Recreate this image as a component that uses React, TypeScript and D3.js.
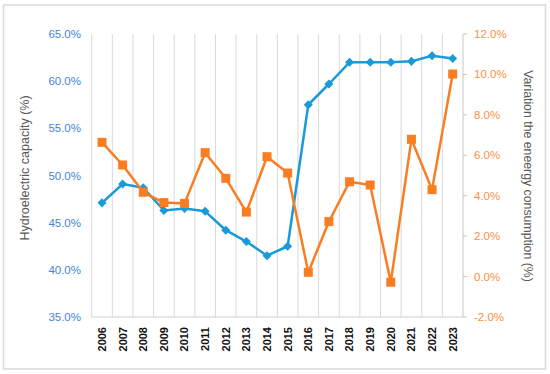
import React from 'react';
import * as d3 from 'd3';

const years = ['2006', '2007', '2008', '2009', '2010', '2011', '2012', '2013', '2014', '2015', '2016', '2017', '2018', '2019', '2020', '2021', '2022', '2023'];
// hydroelectric capacity (%), left axis
const hydro = [47.1, 49.1, 48.7, 46.3, 46.5, 46.2, 44.2, 43.0, 41.5, 42.5, 57.5, 59.7, 62.0, 62.0, 62.0, 62.1, 62.7, 62.4];
// variation of energy consumption (%), right axis
const energy = [6.64, 5.52, 4.17, 3.66, 3.62, 6.13, 4.86, 3.19, 5.93, 5.12, 0.21, 2.72, 4.69, 4.53, -0.28, 6.79, 4.3, 10.02];
const leftTicks = [35, 40, 45, 50, 55, 60, 65];
const rightTicks = [-2, 0, 2, 4, 6, 8, 10, 12];

const W = 550;
const H = 374;
const m = { top: 34, right: 87, bottom: 57, left: 91.7 };

const BLUE = '#1b9ad8';
const ORANGE = '#fb7d22';

export default function App() {
  const x = d3.scaleBand<string>().domain(years).range([m.left, W - m.right]);
  const yL = d3.scaleLinear().domain([35, 65]).range([H - m.bottom, m.top]);
  const yR = d3.scaleLinear().domain([-2, 12]).range([H - m.bottom, m.top]);
  const cx = (d: string) => (x(d) || 0) + x.bandwidth() / 2;

  const lineL = d3.line<number>().x((_, i) => cx(years[i])).y(d => yL(d));
  const lineR = d3.line<number>().x((_, i) => cx(years[i])).y(d => yR(d));

  const bottom = H - m.bottom;
  const right = W - m.right;
  const font = '"Liberation Sans", Arial, sans-serif';

  return (
    <svg width={W} height={H} style={{ position: 'absolute', left: 0, top: 0, background: '#fff' }} fontFamily={font}>
      <rect x={3.5} y={5} width={542} height={364} fill="#fff" stroke="#d9d9d9" strokeWidth={1.5} />

      {/* vertical grid at band edges */}
      {years.map(d => (
        <line key={d} x1={x(d)} x2={x(d)} y1={m.top} y2={bottom} stroke="#d9d9d9" strokeWidth={1} />
      ))}
      <line x1={m.left} x2={right} y1={bottom} y2={bottom} stroke="#d0d0d0" />
      <line x1={right} x2={right} y1={m.top} y2={bottom} stroke="#c8c8c8" />
      {rightTicks.map(t => (
        <line key={t} x1={right} x2={right + 4} y1={yR(t)} y2={yR(t)} stroke="#c8c8c8" />
      ))}

      {/* left ticks */}
      {leftTicks.map(t => (
        <text key={t} x={81} y={yL(t)} dy="0.35em" textAnchor="end" fontSize={11.5} fill="#4285d6">
          {t.toFixed(1)}%
        </text>
      ))}
      {/* right ticks */}
      {rightTicks.map(t => (
        <text key={t} x={474} y={yR(t)} dy="0.35em" textAnchor="start" fontSize={11.5} fill="#f8913f">
          {t.toFixed(1)}%
        </text>
      ))}

      {/* x labels */}
      {years.map(d => (
        <text key={d} transform={`translate(${cx(d)},${bottom + 10}) rotate(-90)`} dy="0.35em" textAnchor="end"
          fontSize={11} fontWeight="bold" fill="#111">
          {d}
        </text>
      ))}

      <text transform="translate(25,168) rotate(-90)" dy="0.35em" textAnchor="middle" fontSize={12.5} fill="#595959">
        Hydroelectric capacity (%)
      </text>
      <text transform="translate(528,176) rotate(90)" dy="0.35em" textAnchor="middle" fontSize={12.3} fill="#595959">
        Variation the eneergy consumption (%)
      </text>

      <path d={lineL(hydro) || ''} fill="none" stroke={BLUE} strokeWidth={2.5} strokeLinejoin="round" />
      {hydro.map((v, i) => (
        <rect key={i} x={-3.2} y={-3.2} width={6.4} height={6.4} fill={BLUE}
          transform={`translate(${cx(years[i])},${yL(v)}) rotate(45)`} />
      ))}

      <path d={lineR(energy) || ''} fill="none" stroke={ORANGE} strokeWidth={2.5} strokeLinejoin="round" />
      {energy.map((v, i) => (
        <rect key={i} x={cx(years[i]) - 4.5} y={yR(v) - 4.5} width={9} height={9} fill={ORANGE} />
      ))}
    </svg>
  );
}
